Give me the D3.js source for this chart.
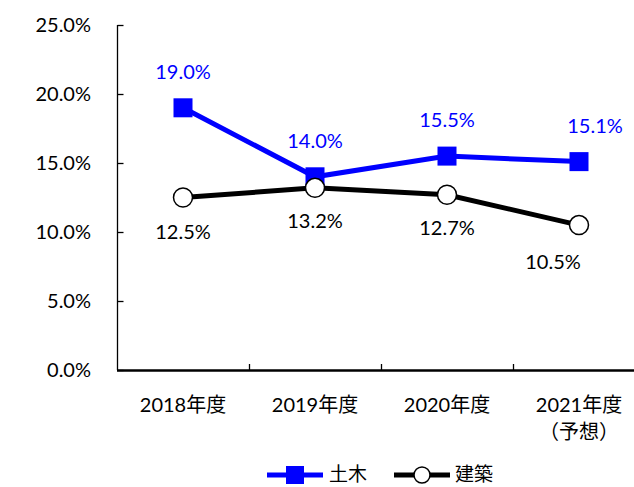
<!DOCTYPE html>
<html>
<head>
<meta charset="utf-8">
<script src="https://cdn.jsdelivr.net/npm/d3@7"></script>
<style>
  body { margin: 0; background: #fff; }
  text { font-family: Lato, "Noto Sans CJK JP", sans-serif; }
</style>
</head>
<body>
<div id="chart"></div>
<script>
// data
const categories = ["2018年度", "2019年度", "2020年度", "2021年度"]
const subLabels = ["", "", "", "（予想）"]
const civilValues = [19.0, 14.0, 15.5, 15.1]
const buildingValues = [12.5, 13.2, 12.7, 10.5]
const yTicks = [0, 5, 10, 15, 20, 25]

const width = 634
const height = 487
const margin = { top: 25, left: 117, bottom: 117 }
const plotBottom = height - margin.bottom   // y of 0%
const bandWidth = 132

const svg = d3.select("#chart")
    .append("svg")
        .attr("width", width)
        .attr("height", height)

const xScale = d3.scaleBand()
    .domain(categories)
    .range([margin.left, margin.left + bandWidth * categories.length])
    .paddingInner(0)
    .paddingOuter(0)
const xCenter = c => xScale(c) + xScale.bandwidth() / 2

const yScale = d3.scaleLinear()
    .domain([0, 25])
    .range([plotBottom, margin.top])

// y axis
const yAxis = svg.append("g")
    .attr("transform", `translate(${margin.left + 0.5},0)`)
    .call(d3.axisRight(yScale).tickValues(yTicks).tickSize(6).tickFormat(""))
yAxis.select(".domain").attr("stroke", "#000").attr("stroke-width", 1.3)
    .attr("d", `M0,${yScale(25)}V${yScale(0)}`)
yAxis.selectAll(".tick line").attr("stroke", "#000").attr("stroke-width", 1.3)

svg.append("g")
    .selectAll("text")
    .data(yTicks)
    .join("text")
        .attr("x", 91)
        .attr("y", d => yScale(d) + 7)
        .attr("text-anchor", "end")
        .style("font-size", "20px")
        .attr("fill", "#000")
        .text(d => d.toFixed(1) + "%")

// x axis
const xAxis = svg.append("g")
xAxis.append("line")
    .attr("x1", margin.left)
    .attr("x2", width)
    .attr("y1", plotBottom + 0.5)
    .attr("y2", plotBottom + 0.5)
    .attr("stroke", "#000")
    .attr("stroke-width", 2.5)
xAxis.selectAll(".xtick")
    .data(categories.slice(1))
    .join("line")
        .attr("class", "xtick")
        .attr("x1", d => xScale(d) + 0.5)
        .attr("x2", d => xScale(d) + 0.5)
        .attr("y1", plotBottom)
        .attr("y2", plotBottom - 6)
        .attr("stroke", "#000")
        .attr("stroke-width", 1.3)
xAxis.selectAll(".xlabel")
    .data(categories)
    .join("text")
        .attr("class", "xlabel")
        .attr("x", d => xCenter(d))
        .attr("y", plotBottom + 42)
        .attr("text-anchor", "middle")
        .style("font-size", "20px")
        .text(d => d)
xAxis.selectAll(".xsub")
    .data(categories)
    .join("text")
        .attr("class", "xsub")
        .attr("x", d => xCenter(d))
        .attr("y", plotBottom + 69)
        .attr("text-anchor", "middle")
        .style("font-size", "20px")
        .text((d, i) => subLabels[i])

// lines
const lineGenerator = values => d3.line()
    .x((d, i) => xCenter(categories[i]))
    .y(d => yScale(d))(values)

svg.append("path")
    .attr("d", lineGenerator(buildingValues))
    .attr("fill", "none")
    .attr("stroke", "#000")
    .attr("stroke-width", 5)

svg.append("path")
    .attr("d", lineGenerator(civilValues))
    .attr("fill", "none")
    .attr("stroke", "#0000ff")
    .attr("stroke-width", 5)

svg.selectAll(".civilMarker")
    .data(civilValues)
    .join("rect")
        .attr("class", "civilMarker")
        .attr("x", (d, i) => xCenter(categories[i]) - 9.5)
        .attr("y", d => yScale(d) - 9.5)
        .attr("width", 19)
        .attr("height", 19)
        .attr("fill", "#0000ff")

svg.selectAll(".buildingMarker")
    .data(buildingValues)
    .join("circle")
        .attr("class", "buildingMarker")
        .attr("cx", (d, i) => xCenter(categories[i]))
        .attr("cy", d => yScale(d))
        .attr("r", 9.5)
        .attr("fill", "#fff")
        .attr("stroke", "#000")
        .attr("stroke-width", 1.5)

// data labels
const civilLabelDx = [0, 0, 0, 16]
const buildingLabelDx = [0, 0, 0, -26]
const buildingLabelDy = [41, 40, 40, 44]

svg.selectAll(".civilLabel")
    .data(civilValues)
    .join("text")
        .attr("class", "civilLabel")
        .attr("x", (d, i) => xCenter(categories[i]) + civilLabelDx[i])
        .attr("y", d => yScale(d) - 29)
        .attr("text-anchor", "middle")
        .style("font-size", "20px")
        .attr("fill", "#0000ff")
        .text(d => d.toFixed(1) + "%")

svg.selectAll(".buildingLabel")
    .data(buildingValues)
    .join("text")
        .attr("class", "buildingLabel")
        .attr("x", (d, i) => xCenter(categories[i]) + buildingLabelDx[i])
        .attr("y", (d, i) => yScale(d) + buildingLabelDy[i])
        .attr("text-anchor", "middle")
        .style("font-size", "20px")
        .attr("fill", "#000")
        .text(d => d.toFixed(1) + "%")

// legend
const legend = svg.append("g")
    .attr("transform", "translate(0,475)")
legend.append("line")
    .attr("x1", 267).attr("x2", 323)
    .attr("stroke", "#0000ff").attr("stroke-width", 5)
legend.append("rect")
    .attr("x", 286).attr("y", -9).attr("width", 18).attr("height", 18)
    .attr("fill", "#0000ff")
legend.append("text")
    .attr("x", 329).attr("y", 6)
    .style("font-size", "19px")
    .text("土木")
legend.append("line")
    .attr("x1", 394).attr("x2", 450)
    .attr("stroke", "#000").attr("stroke-width", 5)
legend.append("circle")
    .attr("cx", 422).attr("cy", 0).attr("r", 8)
    .attr("fill", "#fff").attr("stroke", "#000").attr("stroke-width", 1.5)
legend.append("text")
    .attr("x", 455).attr("y", 6)
    .style("font-size", "19px")
    .text("建築")
</script>
</body>
</html>
